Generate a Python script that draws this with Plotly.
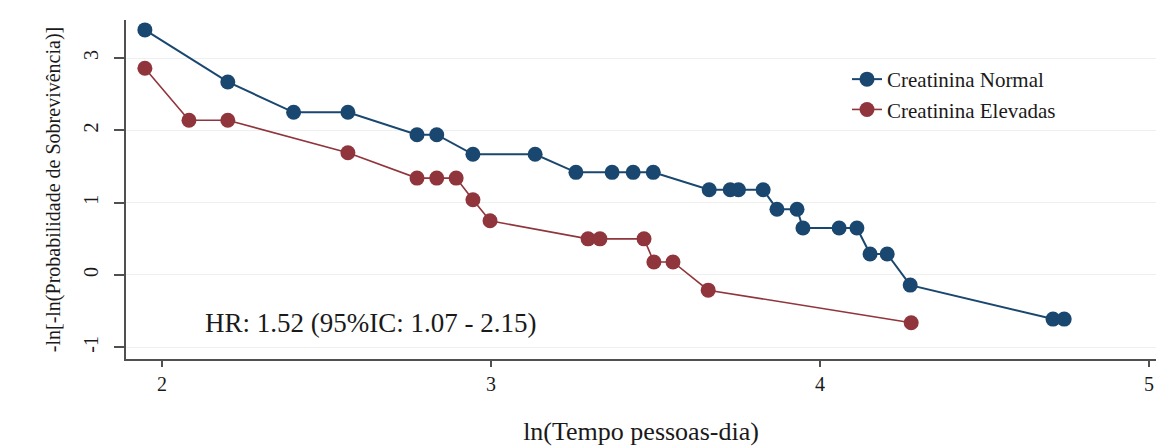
import plotly.graph_objects as go

# ln(time in person-days) and -ln[-ln(S)] for each creatinine group
normal_x = [1.948, 2.200, 2.400, 2.565, 2.775, 2.835, 2.945, 3.134, 3.258, 3.368,
            3.432, 3.493, 3.663, 3.727, 3.752, 3.827, 3.869, 3.930, 3.948, 4.058,
            4.112, 4.152, 4.204, 4.274, 4.708, 4.742]
normal_y = [3.39, 2.67, 2.25, 2.25, 1.94, 1.94, 1.67, 1.67, 1.42, 1.42,
            1.42, 1.42, 1.18, 1.18, 1.18, 1.18, 0.91, 0.91, 0.65, 0.65,
            0.65, 0.29, 0.29, -0.14, -0.61, -0.61]

elev_x = [1.948, 2.082, 2.200, 2.565, 2.775, 2.835, 2.894, 2.945, 2.997, 3.295,
          3.331, 3.465, 3.495, 3.553, 3.660, 4.277]
elev_y = [2.86, 2.14, 2.14, 1.69, 1.34, 1.34, 1.34, 1.04, 0.75, 0.50,
          0.50, 0.50, 0.18, 0.18, -0.21, -0.66]

x_ticks = [2, 3, 4, 5]
y_ticks = [-1, 0, 1, 2, 3]

series_names = ["Creatinina Normal", "Creatinina Elevadas"]
hr_text = "HR: 1.52 (95%IC: 1.07 - 2.15)"
x_title = "ln(Tempo pessoas-dia)"
y_title = "-ln[-ln(Probabilidade de Sobrevivência)]"

BLUE = "#1a476f"
RED = "#90353b"
SERIF = "'Liberation Serif', 'Times New Roman', 'DejaVu Serif', serif"
INK = "#1a1a1a"

fig = go.Figure()
fig.add_trace(go.Scatter(
    x=normal_x, y=normal_y, mode="lines+markers", name=series_names[0],
    line=dict(color=BLUE, width=2),
    marker=dict(color=BLUE, size=15, symbol="circle"),
))
fig.add_trace(go.Scatter(
    x=elev_x, y=elev_y, mode="lines+markers", name=series_names[1],
    line=dict(color=RED, width=1.6),
    marker=dict(color=RED, size=15, symbol="circle"),
))

fig.add_annotation(
    x=2.125, y=-0.66, xref="x", yref="y", text=hr_text, showarrow=False,
    xanchor="left", yanchor="middle",
    font=dict(family=SERIF, size=27, color=INK),
)

fig.update_layout(
    width=1156, height=446,
    margin=dict(l=126, r=0, t=20, b=87),
    paper_bgcolor="white", plot_bgcolor="white",
    showlegend=True,
    legend=dict(
        x=0.70, y=0.885, xanchor="left", yanchor="top",
        bgcolor="rgba(0,0,0,0)",
        font=dict(family=SERIF, size=21, color=INK),
        tracegroupgap=0,
    ),
    font=dict(family=SERIF, color=INK),
)

fig.update_xaxes(
    range=[1.8906, 5.021], tickvals=x_ticks, ticktext=[str(v) for v in x_ticks],
    showline=True, linecolor="#505050", linewidth=1.5,
    ticks="outside", ticklen=6, tickcolor="#505050", tickwidth=1.5,
    showgrid=False, zeroline=False,
    tickfont=dict(family=SERIF, size=20, color=INK),
    title=dict(text=x_title, font=dict(family=SERIF, size=26, color=INK), standoff=34),
)
fig.update_yaxes(
    range=[-1.162, 3.527], tickvals=y_ticks, ticktext=[str(v) for v in y_ticks],
    showline=True, linecolor="#505050", linewidth=1.5,
    ticks="outside", ticklen=10, tickcolor="#505050", tickwidth=1.5,
    tickangle=-90, ticklabelstandoff=8,
    showgrid=True, gridcolor="#eef0f0", gridwidth=1, zeroline=False,
    tickfont=dict(family=SERIF, size=20, color=INK),
    title=dict(text=y_title, font=dict(family=SERIF, size=20, color=INK), standoff=14),
)

fig.write_html("out.html")
